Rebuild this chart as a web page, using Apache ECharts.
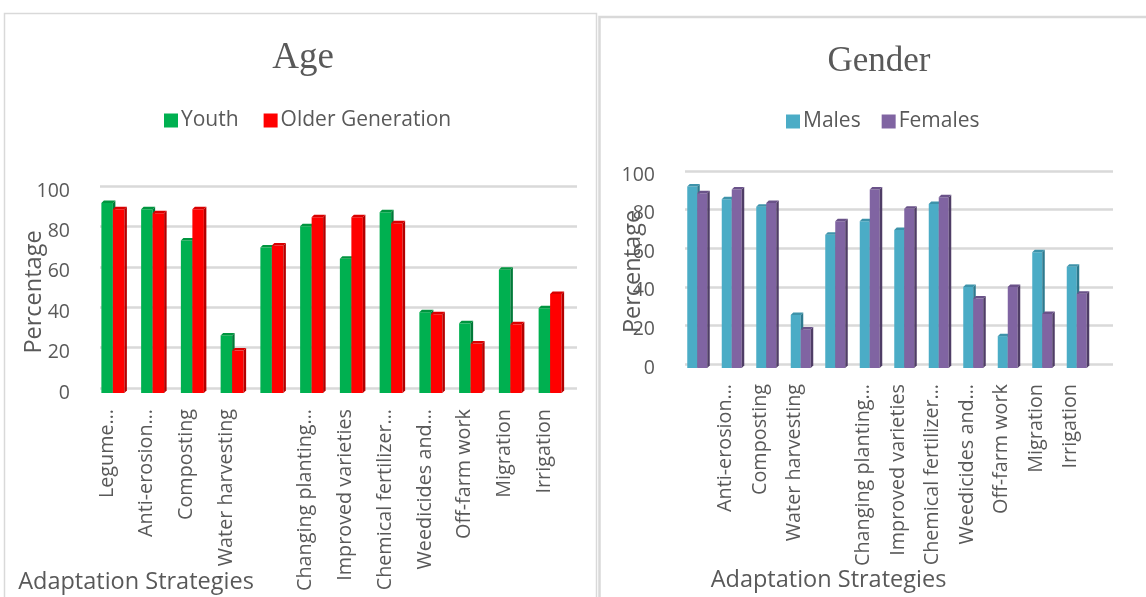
<!DOCTYPE html>
<html>
<head>
<meta charset="utf-8">
<script src="https://cdn.jsdelivr.net/npm/echarts@6/dist/echarts.min.js"></script>
<style>
html,body{margin:0;padding:0;background:#fff;}
#chart{width:1146px;height:597px;}
</style>
</head>
<body>
<div id="chart"></div>
<script>
// ---- data ----
const ageCategories = ['Legume…', 'Anti-erosion…', 'Composting', 'Water harvesting', '', 'Changing planting…', 'Improved varieties', 'Chemical fertilizer…', 'Weedicides and…', 'Off-farm work', 'Migration', 'Irrigation'];
const youth = [94, 91, 75.5, 28.5, 72, 82.5, 66.5, 89.5, 40, 34.5, 61, 42];
const olderGeneration = [91, 89, 91, 21, 73, 87, 87, 84, 39, 24.5, 34, 49];

const genderCategories = ['', 'Anti-erosion…', 'Composting', 'Water harvesting', '', 'Changing planting…', 'Improved varieties', 'Chemical fertilizer…', 'Weedicides and…', 'Off-farm work', 'Migration', 'Irrigation'];
const males = [94, 87.5, 83.5, 27.5, 69, 76, 71.5, 85, 42, 16.5, 60, 52.5];
const females = [90.5, 92.5, 85.5, 20, 76, 92.5, 82.5, 88.5, 36, 42, 28, 38.5];

const yTicks = [0, 20, 40, 60, 80, 100];

// ---- styling ----
const TXT = '#595959';
const GRID = '#d9d9d9';
const FONT = 'Open Sans';

function bar3d(pos, barW, d, c) {
  return function (params, api) {
    const idx = api.value(0), val = api.value(1);
    const base = api.coord([idx, 0]);
    const top = api.coord([idx, val]);
    const x = base[0] + (pos === 0 ? -barW : 0);
    const yT = top[1], yB = base[1];
    return {
      type: 'group',
      children: [
        {type: 'rect', shape: {x: x, y: yT, width: barW, height: yB - yT}, style: {fill: c.front}},
        {type: 'polygon', shape: {points: [[x + barW, yT], [x + barW + d, yT - d], [x + barW + d, yB - d], [x + barW, yB]]}, style: {fill: c.side}},
        {type: 'polygon', shape: {points: [[x, yT], [x + barW, yT], [x + barW + d, yT - d], [x + d, yT - d]]}, style: {fill: c.top}}
      ]
    };
  };
}

const cGreen = {front: '#00B050', side: '#007A38', top: '#00953F'};
const cRed = {front: '#FF0000', side: '#B30000', top: '#D90000'};
const cCyan = {front: '#4BACC6', side: '#2E7A8E', top: '#3E93AA'};
const cPurple = {front: '#8064A2', side: '#4F3D66', top: '#6A5289'};

function backY(gi) {
  return {
    gridIndex: gi, type: 'value', min: 0, max: 100, interval: 20,
    axisLabel: {show: false}, axisLine: {show: false}, axisTick: {show: false},
    splitLine: {show: true, lineStyle: {color: GRID, width: 2.5}}
  };
}
function backX(gi) {
  return {gridIndex: gi, type: 'value', show: false, min: 0, max: 1, splitLine: {show: false}};
}
function catLabel() {
  return {interval: 0, rotate: 90, margin: 16, color: TXT, fontSize: 19.8, fontFamily: FONT,
          verticalAlign: 'bottom', lineHeight: 12};
}

const option = {
  backgroundColor: '#fff',
  animation: false,
  textStyle: {fontFamily: FONT},
  graphic: [
    {type: 'rect', shape: {x: 4.5, y: 13.5, width: 592, height: 620}, style: {fill: 'none', stroke: GRID, lineWidth: 1.5}, z: -10},
    {type: 'rect', shape: {x: 599.5, y: 17, width: 600, height: 620}, style: {fill: 'none', stroke: GRID, lineWidth: 2.5}, z: -10}
  ],
  title: [
    {text: 'Age', left: 298, top: 35, textAlign: 'center', textStyle: {fontFamily: 'Liberation Serif', fontSize: 37, fontWeight: 'normal', color: TXT}},
    {text: 'Gender', left: 874, top: 39, textAlign: 'center', textStyle: {fontFamily: 'Liberation Serif', fontSize: 35, fontWeight: 'normal', color: TXT}}
  ],
  legend: [
    {data: ['Youth', 'Older Generation'], left: 159, top: 105, itemWidth: 14, itemHeight: 14, itemGap: 25, icon: 'rect',
     textStyle: {color: TXT, fontSize: 21, fontFamily: FONT, padding: [0, 0, 0, -2]}},
    {data: ['Males', 'Females'], left: 781, top: 106, itemWidth: 14, itemHeight: 14, itemGap: 21, icon: 'rect',
     textStyle: {color: TXT, fontSize: 21, fontFamily: FONT, padding: [0, 0, 0, -2]}}
  ],
  grid: [
    {left: 100, right: 1146 - 577, top: 186, height: 202, outerBoundsMode: 'none'},
    {left: 93, right: 1146 - 570, top: 191, height: 202, outerBoundsMode: 'none'},
    {left: 685, right: 1146 - 1113, top: 171, height: 193, outerBoundsMode: 'none'},
    {left: 680, right: 1146 - 1094, top: 175, height: 193, outerBoundsMode: 'none'}
  ],
  xAxis: [
    backX(0),
    {gridIndex: 1, type: 'category', data: ageCategories,
     axisLine: {show: false}, axisTick: {show: false}, splitLine: {show: false},
     axisLabel: catLabel(),
     name: 'Adaptation Strategies', nameLocation: 'middle', nameGap: 177, nameMoveOverlap: false,
     nameTextStyle: {color: TXT, fontSize: 23.5, fontFamily: FONT, verticalAlign: 'top', padding: [0, 391, 0, 0]}},
    backX(2),
    {gridIndex: 3, type: 'category', data: genderCategories,
     axisLine: {show: false}, axisTick: {show: false}, splitLine: {show: false},
     axisLabel: catLabel(),
     name: 'Adaptation Strategies', nameLocation: 'middle', nameGap: 200, nameMoveOverlap: false,
     nameTextStyle: {color: TXT, fontSize: 23.5, fontFamily: FONT, verticalAlign: 'top', padding: [0, 117, 0, 0]}}
  ],
  yAxis: [
    backY(0),
    {gridIndex: 1, type: 'value', min: yTicks[0], max: yTicks[yTicks.length - 1], interval: yTicks[1] - yTicks[0],
     axisLine: {show: false}, axisTick: {show: false}, splitLine: {show: false},
     axisLabel: {margin: 23, color: TXT, fontSize: 19.5, fontFamily: FONT},
     name: 'Percentage', nameLocation: 'middle', nameGap: 47, nameMoveOverlap: false,
     nameTextStyle: {color: TXT, fontSize: 23.5, fontFamily: FONT}},
    backY(2),
    {gridIndex: 3, type: 'value', min: yTicks[0], max: yTicks[yTicks.length - 1], interval: yTicks[1] - yTicks[0],
     axisLine: {show: false}, axisTick: {show: false}, splitLine: {show: false},
     axisLabel: {margin: 25, color: TXT, fontSize: 19.5, fontFamily: FONT},
     name: 'Percentage', nameLocation: 'middle', nameGap: 35, nameMoveOverlap: false,
     nameTextStyle: {color: TXT, fontSize: 23.5, fontFamily: FONT}}
  ],
  series: [
    {name: 'Youth', type: 'custom', xAxisIndex: 1, yAxisIndex: 1, itemStyle: {color: cGreen.front},
     data: youth.map((v, i) => [i, v]), encode: {x: 0, y: 1}, renderItem: bar3d(0, 11.5, 2.5, cGreen)},
    {name: 'Older Generation', type: 'custom', xAxisIndex: 1, yAxisIndex: 1, itemStyle: {color: cRed.front},
     data: olderGeneration.map((v, i) => [i, v]), encode: {x: 0, y: 1}, renderItem: bar3d(1, 11.5, 2.5, cRed)},
    {name: 'Males', type: 'custom', xAxisIndex: 3, yAxisIndex: 3, itemStyle: {color: cCyan.front},
     data: males.map((v, i) => [i, v]), encode: {x: 0, y: 1}, renderItem: bar3d(0, 10, 2.5, cCyan)},
    {name: 'Females', type: 'custom', xAxisIndex: 3, yAxisIndex: 3, itemStyle: {color: cPurple.front},
     data: females.map((v, i) => [i, v]), encode: {x: 0, y: 1}, renderItem: bar3d(1, 10, 2.5, cPurple)}
  ]
};

const chart = echarts.init(document.getElementById('chart'), null, {renderer: 'canvas'});
chart.setOption(option);
</script>
</body>
</html>
